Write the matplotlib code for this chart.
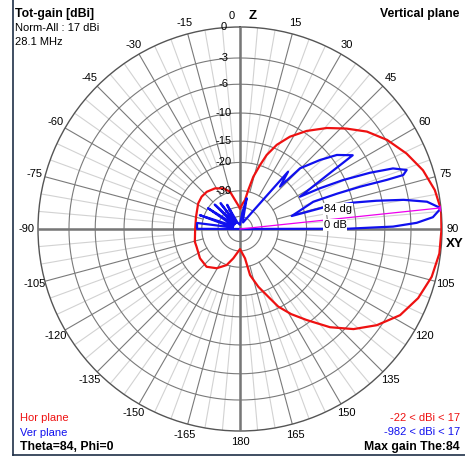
import numpy as np
import matplotlib
matplotlib.use("Agg")
import matplotlib.pyplot as plt
from matplotlib.lines import Line2D

# gain scale: dB -> radius, 0 dB on the outer ring
K = 0.0555


def fwd(db):
    return np.exp(K * np.asarray(db, dtype=float))


def inv(r):
    return np.log(np.maximum(np.asarray(r, dtype=float), 1e-300)) / K


# horizontal plane pattern (deg from zenith, dB rel. 17 dBi)
hor_theta = [0, 6.6, 9.8, 12, 14.3, 17.4, 19.8, 23.6, 28.4, 34.2, 40.7, 46.7,
             52.5, 58.8, 65.6, 72.2, 78.7, 84.6, 90.3, 97, 104, 111.2, 118.3,
             125.1, 131.4, 137.5, 143.8, 149, 153.8, 157.3, 162.4, 167.7, 170.3,
             180, 192.9, 200.3, 210.7, 221.5, 233.8, 247.8, 254.2, 268.7, 285.6,
             301.6, 310.1, 318.2, 328.4, 337.7, 345, 350.2, 360]
hor_db = [-41, -36.8, -34.7, -29.2, -23.8, -19.9, -17.0, -14.2, -11.8, -9.6, -7.5,
          -5.8, -4.2, -2.9, -1.8, -0.9, -0.3, 0, -0.05, -0.1, -0.4, -1.0, -1.9,
          -3.4, -5.2, -7.5, -10.5, -12.8, -15.3, -18.2, -21.7, -26.2, -34.5,
          -41.6, -34.3, -29.9, -26.8, -25.0, -25.3, -26.3, -26.3, -27.1, -26.8,
          -25.5, -25.1, -25.2, -26.0, -27.5, -29.8, -34.7, -41]

# vertical plane pattern (deg from zenith, dB rel. 17 dBi)
ver_theta = [-90, -89.8, -82, -78, -71, -65, -57, -51, -46, -41, -37, -32, -28,
             -22, 0, 8, 12.3, 16, 25, 36, 40, 43.4, 44.7, 49.2, 52.6, 56.8, 58.5,
             61.7, 63, 64.6, 66.6, 68.4, 70.5, 71.7, 71.5, 70.6, 70, 69.6, 75.9,
             75.5, 76.9, 78.3, 79.9, 81.7, 84.1, 86.5, 88, 89.1, 89.4, 89.84, 90]
ver_db = [-100, -27.9, -27.7, -60, -28.1, -60, -30, -60, -31.5, -60, -33, -60, -36,
          -60, -70, -45, -33.5, -50, -60, -40, -17.9, -22.4, -15.5, -11.7, -9.1,
          -7.3, -12.7, -19.6, -14.6, -10.3, -6.4, -3.7, -2.4, -2.9, -4.8, -8.3,
          -12.1, -17.1, -24.0, -15.0, -9.9, -6.7, -3.5, -1.2, 0, -0.8, -2.4, -5.0,
          -7.9, -11.2, -100]

max_theta = 84
ring_db = [0, -3, -6, -10, -15, -20, -30, -40, -50]
ring_labels = ["0", "-3", "-6", "-10", "-15", "-20", "-30"]
angle_ticks = list(range(0, 181, 15)) + list(range(-165, 0, 15))

W, H = 465, 458
fig = plt.figure(figsize=(W / 100, H / 100), dpi=100)
fig.patch.set_facecolor("white")

cx, cy, R = 240, 229, 202
ax = fig.add_axes([(cx - R) / W, (H - cy - R) / H, 2 * R / W, 2 * R / H],
                  projection="polar")
ax.set_theta_zero_location("N")
ax.set_theta_direction(-1)
ax.set_rscale("function", functions=(fwd, inv))
ax.set_rlim(-300, 0)
ax.set_xticks([])
ax.set_yticks([])
ax.grid(False)
ax.spines["polar"].set_color("#555555")
ax.spines["polar"].set_linewidth(1.0)

dark = "#7a7a7a"
light = "#d2d2d2"
circ = np.linspace(0, 2 * np.pi, 721)

# minor radials every 5 deg, major every 15 deg
for a in range(0, 360, 5):
    t = np.deg2rad([a, a])
    if a % 15:
        ax.plot(t, [-20, 0], color=light, lw=0.8, zorder=1)
    else:
        ax.plot(t, [-30, 0], color=dark, lw=0.8, zorder=2)

for d in ring_db[1:]:
    ax.plot(circ, np.full_like(circ, d), color=dark, lw=0.8, zorder=2)

# main axes
for a in (0, 90, 180, 270):
    t = np.deg2rad(a)
    ax.plot([t, t], [-300, 0], color="#777777", lw=1.8, zorder=3)

ax.plot(np.deg2rad(hor_theta), hor_db, color="#ee1111", lw=1.6, zorder=5)
ax.plot(np.deg2rad(ver_theta), ver_db, color="#1010ee", lw=1.6, zorder=6)

# direction of maximum gain
ax.plot(np.deg2rad([max_theta, max_theta]), [-300, 0], color="#ee00ee", lw=0.9, zorder=7)
ax.plot(np.deg2rad([max_theta]), [0], marker="D", ms=3, color="#ee00ee", zorder=8)

txt = dict(fontfamily="Liberation Sans", fontsize=8)
btxt = dict(fontfamily="Liberation Sans", fontsize=8.8, fontweight="bold")

for lab, d in zip(ring_labels, ring_db):
    ax.annotate(lab, xy=(0, d), xytext=(-12, 0), textcoords="offset points",
                ha="center", va="center", zorder=9, **txt)

lab_db = inv(213 / R)
for a in angle_ticks:
    if a == 0:
        continue
    ax.text(np.deg2rad(a), lab_db, str(a), ha="center", va="center",
            clip_on=False, **txt)
ax.annotate("0", xy=(0, lab_db), xytext=(-6, 0), textcoords="offset points",
            ha="center", va="center", annotation_clip=False, **txt)
ax.annotate("Z", xy=(0, lab_db), xytext=(9, 0), textcoords="offset points",
            ha="center", va="center", annotation_clip=False, fontweight="bold",
            fontfamily="Liberation Sans", fontsize=9.5)
ax.annotate("XY", xy=(np.pi / 2, lab_db), xytext=(1, -11), textcoords="offset points",
            ha="center", va="center", annotation_clip=False, fontweight="bold",
            fontfamily="Liberation Sans", fontsize=9.5)

box = dict(boxstyle="square,pad=0.05", fc="white", ec="none")
fig.text(338 / W, 1 - 209 / H, f"{max_theta} dg", ha="center", va="center",
         bbox=box, zorder=10, **txt)
fig.text(335 / W, 1 - 225 / H, "0 dB", ha="center", va="center",
         bbox=box, zorder=10, **txt)

# corner captions
fig.text(15 / W, 1 - 14 / H, "Tot-gain [dBi]", ha="left", va="center", **btxt)
fig.text(15 / W, 1 - 28 / H, "Norm-All : 17 dBi", ha="left", va="center", **txt)
fig.text(15 / W, 1 - 42 / H, "28.1 MHz", ha="left", va="center", **txt)
fig.text(459 / W, 1 - 14 / H, "Vertical plane", ha="right", va="center", **btxt)
fig.text(20 / W, 1 - 418 / H, "Hor plane", ha="left", va="center", color="#ee1111", **txt)
fig.text(20 / W, 1 - 433 / H, "Ver plane", ha="left", va="center", color="#1010ee", **txt)
fig.text(20 / W, 1 - 447 / H, "Theta=84, Phi=0", ha="left", va="center", **btxt)
fig.text(460 / W, 1 - 418 / H, "-22 < dBi < 17", ha="right", va="center",
         color="#ee1111", **txt)
fig.text(460 / W, 1 - 432 / H, "-982 < dBi < 17", ha="right", va="center",
         color="#1010ee", **txt)
fig.text(460 / W, 1 - 447 / H, "Max gain The:84", ha="right", va="center", **btxt)

# window frame
fig.add_artist(Line2D([13 / W, 13 / W], [1 - 455 / H, 1], color="#1f3048", lw=1.2))
fig.add_artist(Line2D([13 / W, 1], [1 - 455 / H, 1 - 455 / H], color="#1f3048", lw=1.2))

fig.savefig("out.png", dpi=100)
